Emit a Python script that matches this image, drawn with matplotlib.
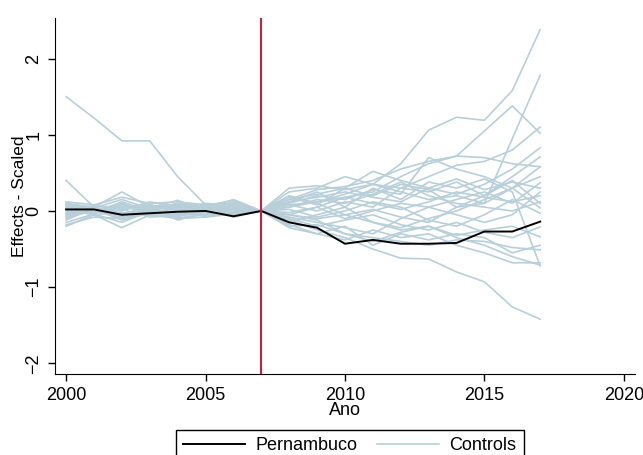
import numpy as np
from matplotlib import pyplot as plt

plt.rcParams['font.family'] = ['Liberation Sans', 'DejaVu Sans']

years = list(range(2000, 2018))
treat_year = 2007

pernambuco = [0.02, 0.02, -0.05, -0.03, -0.01, 0.00, -0.07, 0,
              -0.15, -0.22, -0.43, -0.38, -0.43, -0.43, -0.42, -0.27, -0.27, -0.14]

controls = [
    [1.50, 1.22, 0.92, 0.92, 0.45, 0.08, 0.05, 0, 0.08, 0.12, 0.18, 0.25, 0.45, 0.62, 0.72, 0.70, 0.62, 0.58],
    [0.40, 0.05, -0.05, 0.02, 0.04, 0.03, 0.06, 0, 0.05, 0.12, 0.22, 0.35, 0.62, 1.06, 1.23, 1.19, 1.58, 2.38],
    [0.05, 0.00, 0.10, -0.05, 0.00, 0.05, 0.02, 0, -0.05, -0.10, -0.05, 0.02, -0.08, -0.15, 0.05, 0.10, 0.95, 1.78],
    [0.08, 0.04, 0.15, 0.03, 0.10, 0.02, 0.12, 0, 0.15, 0.28, 0.32, 0.40, 0.55, 0.65, 0.72, 1.05, 1.38, 1.02],
    [-0.05, 0.00, -0.10, 0.02, -0.04, 0.00, -0.03, 0, -0.12, -0.25, -0.35, -0.50, -0.62, -0.63, -0.80, -0.93, -1.26, -1.42],
    [0.10, 0.05, 0.25, 0.05, 0.08, 0.04, 0.15, 0, 0.30, 0.33, 0.28, 0.35, 0.30, 0.45, 0.60, 0.65, 0.80, 1.10],
    [-0.20, -0.05, -0.22, -0.05, -0.10, -0.08, -0.04, 0, -0.20, -0.18, -0.30, -0.40, -0.28, -0.20, -0.35, -0.45, -0.60, -0.71],
    [0.12, 0.08, 0.18, 0.10, 0.12, 0.08, 0.10, 0, 0.15, 0.22, 0.30, 0.52, 0.40, 0.30, 0.22, 0.35, 0.55, 0.83],
    [-0.10, 0.02, -0.08, 0.05, -0.12, -0.02, 0.05, 0, 0.08, 0.00, 0.12, 0.05, 0.30, 0.25, 0.38, 0.20, 0.45, 0.71],
    [0.02, -0.03, 0.05, 0.08, 0.02, -0.05, 0.08, 0, 0.10, 0.20, 0.15, 0.28, 0.22, 0.70, 0.55, 0.45, 0.30, 0.45],
    [-0.08, 0.03, 0.00, 0.12, 0.05, -0.08, 0.00, 0, -0.05, 0.05, -0.10, 0.00, 0.10, 0.05, 0.15, 0.25, 0.10, 0.37],
    [0.06, -0.02, 0.12, 0.00, 0.10, 0.06, -0.05, 0, 0.12, 0.18, 0.25, 0.18, 0.12, 0.30, 0.42, 0.28, 0.38, 0.30],
    [-0.15, -0.04, -0.15, 0.00, -0.05, -0.02, 0.04, 0, -0.08, -0.15, -0.22, -0.30, -0.10, 0.05, -0.05, -0.15, -0.05, 0.25],
    [0.00, 0.02, 0.08, -0.02, 0.03, 0.10, 0.07, 0, 0.05, 0.15, 0.10, 0.22, 0.38, 0.20, 0.10, 0.05, 0.00, 0.12],
    [-0.05, 0.06, -0.05, 0.08, 0.00, 0.03, -0.06, 0, -0.15, -0.05, 0.05, -0.15, -0.22, -0.10, 0.00, 0.15, 0.30, 0.04],
    [0.04, -0.06, 0.02, -0.08, -0.06, -0.04, 0.02, 0, 0.02, -0.08, 0.00, 0.12, 0.05, -0.12, -0.20, -0.05, 0.15, -0.03],
    [-0.12, 0.04, -0.04, 0.02, -0.08, 0.06, -0.02, 0, -0.10, -0.20, -0.12, -0.05, -0.18, -0.25, -0.15, -0.28, -0.35, -0.21],
    [0.10, 0.00, 0.06, 0.04, 0.14, 0.00, 0.10, 0, 0.20, 0.10, -0.05, -0.15, -0.25, -0.20, -0.32, -0.25, -0.20, -0.34],
    [-0.02, 0.03, -0.12, -0.03, -0.02, -0.06, 0.03, 0, -0.05, -0.12, -0.30, -0.35, -0.40, -0.45, -0.38, -0.40, -0.48, -0.51],
    [0.07, 0.02, 0.03, 0.06, 0.06, 0.02, -0.08, 0, -0.18, -0.30, -0.38, -0.25, -0.35, -0.30, -0.45, -0.55, -0.68, -0.68],
    [-0.07, -0.01, -0.02, -0.06, 0.07, -0.03, 0.06, 0, 0.12, 0.25, 0.05, 0.30, 0.15, 0.38, 0.30, 0.42, 0.25, -0.72],
    [0.03, -0.04, 0.10, -0.04, 0.01, 0.07, 0.14, 0, 0.25, 0.30, 0.45, 0.35, 0.25, 0.15, 0.20, 0.10, 0.30, 0.58],
    [-0.03, 0.01, -0.06, 0.03, -0.03, 0.01, -0.01, 0, -0.02, 0.05, 0.18, 0.10, 0.02, 0.12, 0.25, 0.18, 0.12, 0.20],
    [0.01, 0.07, 0.04, 0.01, 0.09, -0.01, 0.09, 0, 0.18, 0.08, 0.30, 0.20, 0.35, 0.28, 0.05, 0.20, 0.40, 0.10],
    [-0.18, -0.08, -0.10, -0.02, -0.09, -0.05, -0.03, 0, -0.22, -0.30, -0.20, -0.45, -0.30, -0.38, -0.30, -0.35, -0.55, -0.45],
]

ctrl_color = '#b8cfd9'

fig = plt.figure(figsize=(6.43, 4.55), dpi=100)
ax = fig.add_axes([0.0855, 0.178, 0.902, 0.782])

for i, c in enumerate(controls):
    ax.plot(years, c, color=ctrl_color, lw=1.2, label='Controls' if i == 0 else None, zorder=2)
ax.plot(years, pernambuco, color='black', lw=1.4, label='Pernambuco', zorder=3)
ax.axvline(treat_year, color='#c8203c', lw=1.5, zorder=4)

ax.set_xlim(1999.6, 2020.4)
ax.set_ylim(-2.14, 2.53)
ax.set_xticks([2000, 2005, 2010, 2015, 2020])
ax.set_yticks([-2, -1, 0, 1, 2])
ax.tick_params(labelsize=13, direction='out', length=5, width=1, pad=4)
for lbl in ax.get_yticklabels():
    lbl.set_rotation(90)
    lbl.set_va('center')
ax.spines['top'].set_visible(False)
ax.spines['right'].set_visible(False)
ax.set_ylabel('Effects - Scaled', fontsize=12.5, labelpad=-1)
ax.set_xlabel('Ano', fontsize=13, labelpad=-1)

handles, labels = ax.get_legend_handles_labels()
order = [labels.index('Pernambuco'), labels.index('Controls')]
leg = fig.legend([handles[i] for i in order], [labels[i] for i in order],
                 loc='upper center', bbox_to_anchor=(0.544, 0.055), ncol=2,
                 fontsize=13, handlelength=3.4, handletextpad=0.6,
                 columnspacing=1.1, fancybox=False, edgecolor='black',
                 framealpha=1, borderpad=0.4, borderaxespad=0)
leg.get_frame().set_linewidth(1)

plt.savefig('out.png', dpi=100)
